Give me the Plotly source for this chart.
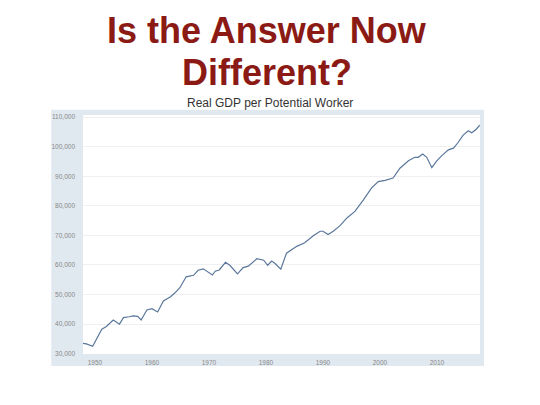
"""
Real GDP per potential worker, FRED-style panel under a slide title.
"""
import plotly.graph_objects as go

# Series (decimal year, value)
years = [
    1947.9, 1948.5, 1949.6, 1950.3, 1951.2, 1952.0, 1953.2, 1954.3, 1955.0,
    1956.0, 1956.7, 1957.5, 1958.1, 1959.1, 1960.0, 1961.0, 1962.0, 1963.2,
    1964.0, 1964.9, 1966.0, 1967.3, 1968.1, 1969.0, 1969.9, 1970.6, 1971.1,
    1971.8, 1972.9, 1973.7, 1975.0, 1976.0, 1976.9, 1977.5, 1978.4, 1979.6,
    1980.3, 1981.0, 1981.6, 1982.6, 1983.6, 1985.4, 1986.8, 1988.3, 1989.5,
    1990.0, 1990.9, 1991.8, 1993.0, 1994.2, 1995.6, 1997.1, 1998.5, 1999.7,
    2000.9, 2002.3, 2003.5, 2005.0, 2006.1, 2006.7, 2007.5, 2008.2, 2009.1,
    2009.9, 2010.8, 2012.0, 2012.9, 2013.7, 2014.6, 2015.5, 2016.1, 2016.9,
    2017.5,
]
gdp_per_worker = [
    33500, 33300, 32500, 35000, 38300, 39200, 41400, 40000, 42200,
    42500, 42800, 42600, 41400, 44800, 45200, 44100, 47800, 49200,
    50500, 52300, 56000, 56500, 58200, 58700, 57600, 56600, 57900,
    58300, 60900, 59800, 57000, 59100, 59600, 60500, 62100, 61600,
    59900, 61300, 60500, 58600, 64000, 66300, 67500, 69900, 71400,
    71400, 70300, 71400, 73300, 75900, 78100, 82000, 86000, 88200,
    88600, 89400, 92700, 95200, 96400, 96400, 97500, 96400, 92900,
    95000, 96900, 98900, 99500, 101400, 103900, 105400, 104700, 105900,
    107300,
]

x_ticks = [1950, 1960, 1970, 1980, 1990, 2000, 2010]
y_ticks = [30000, 40000, 50000, 60000, 70000, 80000, 90000, 100000, 110000]

PANEL_BG = '#e1e9f0'
LINE_COLOR = '#5a779b'
TITLE_RED = '#8b1a14'

fig = go.Figure()

fig.add_trace(go.Scatter(
    x=years,
    y=gdp_per_worker,
    mode='lines',
    line=dict(color=LINE_COLOR, width=1.2),
    showlegend=False
))

title_font = dict(size=36, color=TITLE_RED, family='Liberation Sans, Arial')

# the page body has an 8px margin, so the figure is sized/offset for that
fig.update_layout(
    width=532,
    height=397,
    margin=dict(l=75, r=60, t=107, b=51),
    paper_bgcolor='white',
    plot_bgcolor='white',
    font=dict(family='Liberation Sans, Arial', color='#333333'),
    shapes=[
        # light blue FRED panel, then the white plot area on top of it
        dict(type='rect', xref='paper', yref='paper', layer='below',
             x0=-0.08, x1=1.01, y0=-0.05, y1=1.022,
             fillcolor=PANEL_BG, line=dict(width=0)),
        dict(type='rect', xref='paper', yref='paper', layer='below',
             x0=0, x1=1, y0=0, y1=1,
             fillcolor='white', line=dict(width=0)),
    ],
    annotations=[
        dict(text='<b>Is the Answer Now</b>',
             xref='paper', yref='paper', x=0.4635, y=1.0, yshift=107,
             xanchor='center', yanchor='top', showarrow=False,
             font=title_font),
        dict(text='<b>Different?</b>',
             xref='paper', yref='paper', x=0.4635, y=1.0, yshift=65,
             xanchor='center', yanchor='top', showarrow=False,
             font=title_font),
        dict(text='Real GDP per Potential Worker',
             xref='paper', yref='paper', x=0.47, y=1.0, yshift=3,
             xanchor='center', yanchor='bottom', showarrow=False,
             font=dict(size=12, color='#333333')),
    ]
)

fig.update_xaxes(
    range=[1947.9, 2017.55],
    tickvals=x_ticks,
    ticktext=[str(t) for t in x_ticks],
    showgrid=False,
    zeroline=False,
    showline=False,
    ticks='',
    ticklabelstandoff=3,
    tickfont=dict(size=6.5, color='#888888')
)

fig.update_yaxes(
    range=[29900, 110700],
    tickvals=y_ticks,
    tickformat=',.0f',
    showgrid=True,
    gridcolor='#f0f0f0',
    gridwidth=1,
    zeroline=False,
    showline=False,
    ticks='',
    ticklabelstandoff=7,
    tickfont=dict(size=6.5, color='#888888')
)

fig.write_html("out.html")
